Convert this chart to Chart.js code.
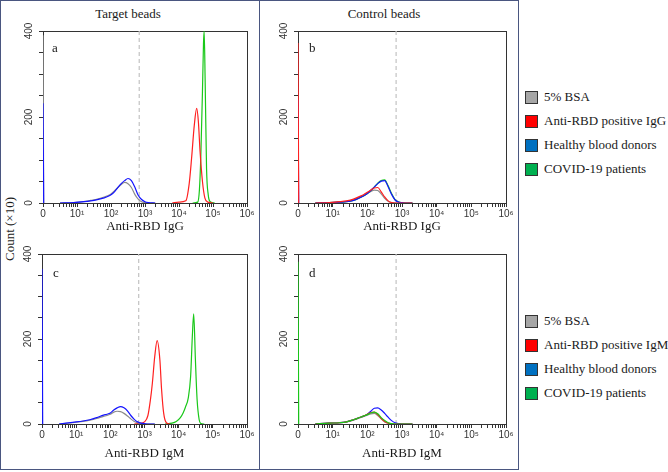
<!DOCTYPE html>
<html>
<head>
<meta charset="utf-8">
<script src="https://cdn.jsdelivr.net/npm/chart.js@4.4.1/dist/chart.umd.min.js"></script>
<style>
body { margin: 0; background: #fff; width: 668px; height: 472px; position: relative; overflow: hidden;
       font-family: "Liberation Serif", serif; color: #1a1a1a; }
.frame { position: absolute; left: 0; top: 0; width: 519px; height: 470px; box-sizing: border-box; border: 1px solid #4a5680; }
.divider { position: absolute; left: 259px; top: 0; width: 1px; height: 470px; background: #4a5680; }
canvas { position: absolute; }
.txt { position: absolute; font-size: 13px; line-height: 16px; white-space: nowrap; }
.head { width: 200px; text-align: center; }
.ylab { left: 10px; top: 229px; transform: translate(-50%, -50%) rotate(-90deg); }
.leg { position: absolute; left: 525px; font-size: 13px; line-height: 16px; white-space: nowrap; }
.leg div { height: 24px; display: flex; align-items: center; }
.leg span.sw { width: 11px; height: 11px; border: 1px solid #333; margin-right: 6px; display: inline-block; }
</style>
</head>
<body>
<div class="frame"></div>
<div class="divider"></div>

<div class="txt head" style="left:28px; top:6px;">Target beads</div>
<div class="txt head" style="left:284px; top:6px;">Control beads</div>
<div class="txt ylab">Count (×10)</div>

<canvas id="chartA" width="259" height="215" style="left:0; top:20px;"></canvas>
<canvas id="chartB" width="259" height="215" style="left:259px; top:20px;"></canvas>
<canvas id="chartC" width="259" height="225" style="left:0; top:243px;"></canvas>
<canvas id="chartD" width="259" height="225" style="left:259px; top:243px;"></canvas>

<div class="txt" style="left:52px; top:40px;">a</div>
<div class="txt" style="left:309px; top:40px;">b</div>
<div class="txt" style="left:53px; top:265px;">c</div>
<div class="txt" style="left:309px; top:265px;">d</div>

<div class="leg" id="legTop" style="top:85px;"></div>
<div class="leg" id="legBottom" style="top:309px;"></div>

<script>
// ============================================
// data  (x = log10 of intensity, 0 = zero bin)
// ============================================

const X_TICK_LABELS = ['0', '10¹', '10²', '10³', '10⁴', '10⁵', '10⁶'];
const Y_TICK_LABELS = ['0', '200', '400'];
const LEGEND_TOP = ['5% BSA', 'Anti-RBD positive IgG', 'Healthy blood donors', 'COVID-19 patients'];
const LEGEND_BOTTOM = ['5% BSA', 'Anti-RBD positive IgM', 'Healthy blood donors', 'COVID-19 patients'];
const GATE_X = [2.83, 2.83];
const GATE_Y = [0, 400];

// events piled in the zero bin: [gray, red, blue, green]
const SPIKE_A = [390, 0, 232, 0];
const SPIKE_B = [0, 372, 240, 0];
const SPIKE_C = [0, 0, 365, 0];
const SPIKE_D = [0, 0, 0, 382];

const HUMP_X = [0.5, 0.9, 1.2, 1.4, 1.6, 1.8, 1.9, 2.0, 2.1, 2.2, 2.3, 2.4, 2.5, 2.6, 2.7, 2.8, 2.9, 3.0, 3.1, 3.3];

// a - target beads, IgG
const A_GRAY_Y  = [0, 1, 3, 6, 9, 14, 17, 21, 28, 36, 43, 48, 45, 36, 20, 9, 3, 1, 0, 0];
const A_BLUE_Y  = [0, 1, 3, 5, 8, 12, 15, 19, 26, 36, 45, 52, 57, 52, 37, 18, 8, 3, 1, 0];
const A_RED_X   = [3.8, 4.0, 4.2, 4.3, 4.37, 4.45, 4.52, 4.57, 4.62, 4.69, 4.76, 4.85, 5.0];
const A_RED_Y   = [0, 2, 5, 45, 104, 181, 220, 189, 119, 50, 12, 2, 0];
const A_GREEN_X = [4.4, 4.55, 4.6, 4.64, 4.69, 4.72, 4.74, 4.77, 4.81, 4.86, 4.92, 5.05];
const A_GREEN_Y = [0, 2, 30, 104, 259, 370, 400, 280, 81, 19, 3, 0];

// b - control beads, IgG
const B_GRAY_Y  = [0, 1, 2, 4, 8, 14, 18, 22, 27, 30, 29, 21, 11, 4, 1, 0, 0, 0, 0, 0];
const B_RED_Y   = [0, 1, 3, 5, 9, 16, 20, 25, 30, 35, 36, 26, 14, 5, 1, 0, 0, 0, 0, 0];
const B_BLUE_Y  = [0, 1, 2, 3, 6, 13, 17, 22, 29, 37, 45, 51, 52, 38, 20, 7, 2, 1, 0, 0];
const B_GREEN_Y = [0, 1, 2, 3, 6, 13, 17, 22, 29, 37, 46, 52, 54, 40, 22, 8, 3, 1, 0, 0];

// c - target beads, IgM
const C_GRAY_Y  = [0, 3, 6, 9, 13, 18, 20, 23, 28, 30, 29, 25, 19, 12, 6, 3, 1, 0, 0, 0];
const C_BLUE_Y  = [0, 4, 7, 10, 15, 21, 23, 26, 33, 38, 41, 38, 31, 20, 11, 5, 2, 1, 0, 0];
const C_RED_X   = [2.7, 2.9, 3.0, 3.1, 3.17, 3.23, 3.3, 3.37, 3.45, 3.5, 3.56, 3.64, 3.75];
const C_RED_Y   = [0, 2, 5, 20, 55, 96, 159, 196, 151, 81, 26, 3, 0];
const C_GREEN_X = [3.6, 3.8, 3.93, 4.05, 4.13, 4.2, 4.28, 4.35, 4.4, 4.44, 4.49, 4.54, 4.6, 4.65, 4.75];
const C_GREEN_Y = [0, 2, 6, 15, 26, 40, 61, 112, 206, 259, 151, 57, 10, 1, 0];

// d - control beads, IgM
const D_GRAY_Y  = [0, 2, 3, 5, 9, 15, 18, 21, 24, 25, 20, 12, 5, 2, 0, 0, 0, 0, 0, 0];
const D_RED_Y   = [0, 2, 3, 5, 10, 16, 19, 23, 27, 28, 22, 13, 6, 2, 0, 0, 0, 0, 0, 0];
const D_BLUE_Y  = [0, 2, 3, 5, 10, 16, 19, 23, 30, 37, 38, 33, 25, 16, 8, 3, 1, 0, 0, 0];
const D_GREEN_Y = [0, 2, 3, 5, 10, 16, 19, 22, 26, 28, 24, 15, 8, 3, 1, 0, 0, 0, 0, 0];

// ============================================
// styles
// ============================================

const LINE_COLORS = { gray: '#8c8c8c', red: '#ff2020', blue: '#1414ff', green: '#19c819' };
const SWATCH_COLORS = ['#a6a6a6', '#ff0000', '#0070c0', '#00b050'];
const KEYS = ['gray', 'red', 'blue', 'green'];

function buildPoints(spike, xs, ys) {
    const pts = [];
    if (spike > 0) {
        pts.push({ x: 0, y: spike }, { x: 0.02, y: 0 }, { x: 0.02, y: null });
    }
    xs.forEach((x, i) => pts.push({ x: x, y: ys[i] }));
    return pts;
}

// minor ticks of the log axis
const X_TICKS = [];
for (let n = 0; n <= 6; n++) {
    X_TICKS.push(n);
    if (n < 6) for (let k = 2; k <= 9; k++) X_TICKS.push(n + Math.log10(k));
}

const boxPlugin = {
    id: 'box',
    beforeDatasetsDraw(chart) {
        const a = chart.chartArea, ctx = chart.ctx;
        ctx.save();
        ctx.strokeStyle = '#333';
        ctx.lineWidth = 1;
        ctx.strokeRect(Math.round(a.left) + 0.5, Math.round(a.top) + 0.5,
                       Math.round(a.right - a.left), Math.round(a.bottom - a.top));
        ctx.restore();
    }
};

function makeChart(id, panel) {
    const datasets = panel.order.map(key => {
        const idx = KEYS.indexOf(key);
        const s = panel.series[key];
        return {
            data: buildPoints(panel.spike[idx], s[0], s[1]),
            borderColor: LINE_COLORS[key],
            borderWidth: 1.2,
            pointRadius: 0,
            cubicInterpolationMode: 'monotone',
            spanGaps: false
        };
    });
    datasets.push({
        data: GATE_X.map((x, i) => ({ x: x, y: GATE_Y[i] })),
        borderColor: '#c2c2c2',
        borderDash: [4, 3],
        borderWidth: 1.2,
        pointRadius: 0
    });

    new Chart(document.getElementById(id).getContext('2d'), {
        type: 'line',
        data: { datasets },
        options: {
            responsive: false,
            animation: false,
            devicePixelRatio: 1,
            layout: { padding: { left: 0, right: panel.padRight, top: 11, bottom: 0 } },
            plugins: { legend: { display: false }, tooltip: { enabled: false } },
            scales: {
                x: {
                    type: 'linear', min: 0, max: 6,
                    afterBuildTicks: s => { s.ticks = X_TICKS.map(v => ({ value: v })); },
                    afterFit: s => { s.height = panel.xHeight; },
                    ticks: {
                        autoSkip: false, minRotation: 0, maxRotation: 0, padding: 1,
                        color: '#333', font: { family: 'Liberation Sans', size: 10 },
                        callback: v => Number.isInteger(v) ? X_TICK_LABELS[v] : ''
                    },
                    grid: { drawOnChartArea: false, drawTicks: true, tickLength: 4, color: '#333' },
                    border: { color: '#333', width: 1 },
                    title: {
                        display: true, text: panel.xTitle, color: '#1a1a1a',
                        font: { family: 'Liberation Serif', size: 13 },
                        padding: { top: 0, bottom: panel.titlePad }
                    }
                },
                y: {
                    min: 0, max: 400,
                    afterFit: s => { s.width = panel.yWidth; },
                    ticks: {
                        stepSize: 50, autoSkip: false, minRotation: 90, maxRotation: 90,
                        crossAlign: 'center', padding: 1,
                        color: '#333', font: { family: 'Liberation Sans', size: 10 },
                        callback: v => Y_TICK_LABELS.includes(String(v)) ? String(v) : ''
                    },
                    grid: { drawOnChartArea: false, drawTicks: true, tickLength: 4, color: '#333' },
                    border: { color: '#333', width: 1 }
                }
            }
        },
        plugins: [boxPlugin]
    });
}

makeChart('chartA', {
    xTitle: 'Anti-RBD IgG', yWidth: 43, padRight: 12, xHeight: 32, titlePad: 1,
    spike: SPIKE_A, order: ['blue', 'gray', 'red', 'green'],
    series: { gray: [HUMP_X, A_GRAY_Y], blue: [HUMP_X, A_BLUE_Y], red: [A_RED_X, A_RED_Y], green: [A_GREEN_X, A_GREEN_Y] }
});
makeChart('chartB', {
    xTitle: 'Anti-RBD IgG', yWidth: 39, padRight: 12, xHeight: 32, titlePad: 1,
    spike: SPIKE_B, order: ['red', 'blue', 'green', 'gray'],
    series: { gray: [HUMP_X, B_GRAY_Y], blue: [HUMP_X, B_BLUE_Y], red: [HUMP_X, B_RED_Y], green: [HUMP_X, B_GREEN_Y] }
});
makeChart('chartC', {
    xTitle: 'Anti-RBD IgM', yWidth: 42, padRight: 12, xHeight: 44, titlePad: 7,
    spike: SPIKE_C, order: ['blue', 'gray', 'red', 'green'],
    series: { gray: [HUMP_X, C_GRAY_Y], blue: [HUMP_X, C_BLUE_Y], red: [C_RED_X, C_RED_Y], green: [C_GREEN_X, C_GREEN_Y] }
});
makeChart('chartD', {
    xTitle: 'Anti-RBD IgM', yWidth: 39, padRight: 12, xHeight: 44, titlePad: 7,
    spike: SPIKE_D, order: ['green', 'red', 'blue', 'gray'],
    series: { gray: [HUMP_X, D_GRAY_Y], blue: [HUMP_X, D_BLUE_Y], red: [HUMP_X, D_RED_Y], green: [HUMP_X, D_GREEN_Y] }
});

// ============================================
// legends
// ============================================

function fillLegend(id, labels) {
    const box = document.getElementById(id);
    labels.forEach((text, i) => {
        const row = document.createElement('div');
        const sw = document.createElement('span');
        sw.className = 'sw';
        sw.style.background = SWATCH_COLORS[i];
        row.appendChild(sw);
        row.appendChild(document.createTextNode(text));
        box.appendChild(row);
    });
}
fillLegend('legTop', LEGEND_TOP);
fillLegend('legBottom', LEGEND_BOTTOM);
</script>
</body>
</html>
